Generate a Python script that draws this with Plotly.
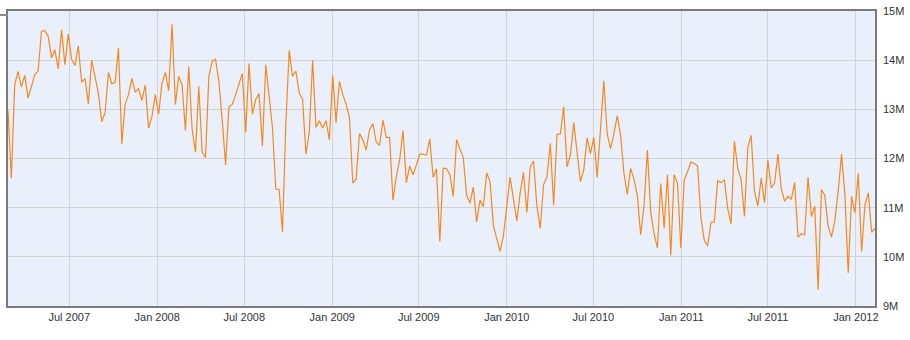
import pandas as pd
import plotly.graph_objects as go

start_date = "2007-02-23"  # first weekly observation

# weekly values, in millions
values_2007a = [12.97, 11.6, 13.5, 13.77, 13.45, 13.69, 13.23, 13.47, 13.7, 13.78,
                14.59, 14.6, 14.49, 14.05, 14.21, 13.82, 14.62, 13.91, 14.53, 14.02,
                13.89, 14.29, 13.55, 13.63, 13.11, 14.0, 13.67, 13.33, 12.75, 12.93,
                13.75, 13.52, 13.55, 14.25, 12.29, 13.1, 13.3, 13.63, 13.35, 13.42,
                13.18, 13.49, 12.62, 12.85]
values_2008 = [13.3, 12.9, 13.53, 13.75, 13.38, 14.73, 13.1, 13.67, 13.5, 12.57,
               13.87, 12.6, 12.13, 13.47, 12.13, 12.02, 13.67, 13.98, 14.02, 13.57,
               12.77, 11.87, 13.05, 13.1, 13.3, 13.51, 13.73, 12.53, 13.93, 12.9,
               13.2, 13.32, 12.25, 13.91, 13.23, 12.63, 11.38, 11.37, 10.5, 12.7,
               14.2, 13.67, 13.78]
values_2009 = [13.33, 13.2, 12.09, 12.53, 14.0, 12.63, 12.77, 12.62, 12.77, 12.38,
               13.69, 12.73, 13.57, 13.3, 13.11, 12.83, 11.5, 11.58, 12.51, 12.38,
               12.17, 12.58, 12.71, 12.33, 12.27, 12.78, 12.43, 12.43, 11.15, 11.63,
               11.97, 12.57, 11.51, 11.85, 11.67, 11.87, 12.09, 12.09, 12.07, 12.4,
               11.62, 11.79, 10.31, 11.8]
values_2010a = [11.8, 11.67, 11.23, 12.38, 12.2, 12.02, 11.25, 11.09, 11.42, 10.71,
                11.15, 11.02, 11.71, 11.53, 10.63, 10.37, 10.11, 10.43, 10.97, 11.62,
                11.17, 10.73, 11.3, 11.72, 10.9, 11.82, 11.95, 11.03, 10.58, 11.47,
                11.62, 12.31, 11.05, 12.49, 12.5, 13.05, 11.83, 12.07, 12.73, 12.1,
                11.53, 11.77, 12.42]
values_2010b = [12.1, 12.43, 11.62, 12.6, 13.58, 12.5, 12.2, 12.5, 12.87, 12.47,
                11.7, 11.27, 11.8, 11.58, 11.25, 10.45, 11.03, 12.17, 10.91, 10.47,
                10.18, 11.49, 10.58, 11.67, 10.03, 11.67, 11.5, 10.18, 11.57, 11.73,
                11.93, 11.9, 11.85, 10.8, 10.33, 10.22, 10.7, 10.71, 11.55, 11.51,
                11.57, 10.98, 10.67]
values_2011 = [12.35, 11.8, 11.57, 10.82, 12.23, 12.47, 11.33, 11.03, 11.6, 11.1,
               11.97, 11.4, 11.5, 12.09, 11.38, 11.13, 11.23, 11.17, 11.51, 10.4,
               10.47, 10.45, 11.62, 10.82, 11.03, 9.33, 11.37, 11.25, 10.63, 10.4,
               10.73, 11.33, 12.09, 11.27, 9.67, 11.23, 10.9, 11.7, 10.11, 11.05,
               11.3, 10.5, 10.58]

y_tick_values = [9, 10, 11, 12, 13, 14, 15]
y_tick_labels = ["9M", "10M", "11M", "12M", "13M", "14M", "15M"]

values = values_2007a + values_2008 + values_2009 + values_2010a + values_2010b + values_2011
dates = pd.date_range(start_date, periods=len(values), freq="7D")

fig = go.Figure()
fig.add_trace(go.Scatter(
    x=dates, y=[v * 1e6 for v in values], mode="lines",
    line=dict(color="#f5891f", width=1.2), hoverinfo="x+y", showlegend=False,
))

fig.update_layout(
    width=910, height=340,
    margin=dict(l=8, r=35, t=5, b=34),
    paper_bgcolor="white", plot_bgcolor="#e9effb",
    font=dict(family="Liberation Sans, Arial, sans-serif", size=11, color="#333333"),
    showlegend=False,
)
fig.update_xaxes(
    range=[dates[0], dates[-1]],
    tick0="2007-01-01", dtick="M6", tickformat="%b %Y",
    showgrid=True, gridcolor="#d3d3d3", gridwidth=1,
    showline=True, linecolor="#7a7a7a", linewidth=1.5, mirror=True,
    ticks="", zeroline=False,
)
fig.update_yaxes(
    range=[9e6, 15e6], side="right",
    tickvals=[v * 1e6 for v in y_tick_values], ticktext=y_tick_labels,
    showgrid=True, gridcolor="#d3d3d3", gridwidth=1,
    showline=True, linecolor="#7a7a7a", linewidth=1.5, mirror=True,
    ticks="", ticklabelstandoff=4, zeroline=False,
)
# small grey handle at top-left corner
fig.add_shape(type="rect", xref="paper", yref="paper",
              x0=-0.0092, x1=0.0, y0=0.983, y1=0.990,
              fillcolor="#8a8a8a", line=dict(width=0))

fig.write_html("out.html", config={"displayModeBar": False},
               post_script="document.body.style.margin='0';")
